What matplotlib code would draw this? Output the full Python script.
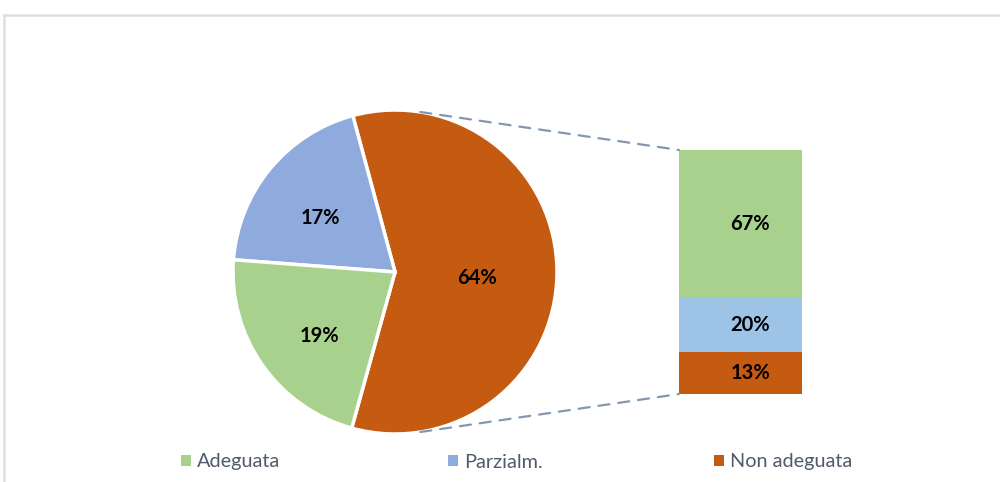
import numpy as np
import matplotlib
matplotlib.use("Agg")
import matplotlib.pyplot as plt
from matplotlib.patches import Patch, ConnectionPatch
from matplotlib.lines import Line2D

plt.rcParams['font.family'] = ['Lato', 'DejaVu Sans']

# ---- data ----
categories = ["Adeguata", "Parzialm.", "Non adeguata"]
pie_order = ["Non adeguata", "Parzialm.", "Adeguata"]
pie_sizes = [58.5, 19.6, 21.9]          # visual share of each wedge
pie_labels = ["64%", "17%", "19%"]
bar_order = ["Non adeguata", "Parzialm.", "Adeguata"]   # bottom -> top
bar_sizes = [17.3, 21.9, 60.8]
bar_labels = ["13%", "20%", "67%"]

pie_colors = {"Adeguata": "#A9D18E", "Parzialm.": "#8FAADC", "Non adeguata": "#C55A11"}
bar_colors = {"Adeguata": "#A9D18E", "Parzialm.": "#9DC3E6", "Non adeguata": "#C55A11"}

# label placement for the pie labels (fraction of radius, angle shift in degrees)
pie_label_dist = [0.51, 0.57, 0.61]
pie_label_shift = [-4, 4, 5]
LABEL_FS = 14.5

W, H = 1000, 482
fig = plt.figure(figsize=(W / 100, H / 100), dpi=100)

# pie axes in pixel coordinates (y up)
ax = fig.add_axes([0, 0, 1, 1])
ax.set_xlim(0, W)
ax.set_ylim(0, H)
ax.set_aspect('equal')
ax.axis('off')

cx, cy, R = 395, H - 272, 162
wedges, _ = ax.pie(pie_sizes, colors=[pie_colors[c] for c in pie_order],
                   startangle=-105.5, counterclock=True, center=(cx, cy), radius=R,
                   wedgeprops=dict(edgecolor='white', linewidth=2.5))
for w, lab, d, s in zip(wedges, pie_labels, pie_label_dist, pie_label_shift):
    mid = np.deg2rad((w.theta1 + w.theta2) / 2 + s)
    ax.text(cx + d * R * np.cos(mid), cy + d * R * np.sin(mid), lab,
            ha='center', va='center', fontsize=LABEL_FS, fontweight='bold', color='black')
ax.set_xlim(0, W)
ax.set_ylim(0, H)

# bar axes
bx = fig.add_axes([679 / W, (H - 394) / H, 123 / W, 244 / H])
bx.set_xlim(0, 1)
bx.set_ylim(0, sum(bar_sizes))
bx.axis('off')
bottom = 0
for name, v, lab in zip(bar_order, bar_sizes, bar_labels):
    bx.bar(0.5, v, width=1.0, bottom=bottom, color=bar_colors[name], edgecolor='none')
    bx.text(0.58, bottom + v / 2, lab, ha='center', va='center',
            fontsize=LABEL_FS, fontweight='bold', color='black')
    bottom += v

# connector dashed lines
ang = np.deg2rad(81)
p_top = (cx + R * np.cos(ang), cy + R * np.sin(ang))
p_bot = (cx + R * np.cos(-ang), cy + R * np.sin(-ang))
for p, q in [(p_top, (0, sum(bar_sizes))), (p_bot, (0, 0))]:
    con = ConnectionPatch(xyA=p, coordsA=ax.transData, xyB=q, coordsB=bx.transData,
                          color='#8497B0', linestyle=(0, (5, 4)), linewidth=1.6)
    fig.add_artist(con)

# legend entries
leg_x = [181 / W, 448 / W, 714 / W]
for name, lx in zip(categories, leg_x):
    lg = fig.legend(handles=[Patch(facecolor=pie_colors[name], edgecolor='none')],
                    labels=[name], loc='center left', bbox_to_anchor=(lx, (H - 462) / H),
                    frameon=False, fontsize=14.3, handlelength=0.52, handleheight=0.52,
                    handletextpad=0.3, borderpad=0, borderaxespad=0)
    for t in lg.get_texts():
        t.set_color('#505A6B')

# chart area border (top and left)
fig.add_artist(Line2D([4 / W, 1], [(H - 15) / H, (H - 15) / H], transform=fig.transFigure,
                      color='#DCE0E6', linewidth=1.8))
fig.add_artist(Line2D([4 / W, 4 / W], [0, (H - 15) / H], transform=fig.transFigure,
                      color='#DCE0E6', linewidth=1.8))

fig.savefig("out.png", dpi=100, facecolor='white')
